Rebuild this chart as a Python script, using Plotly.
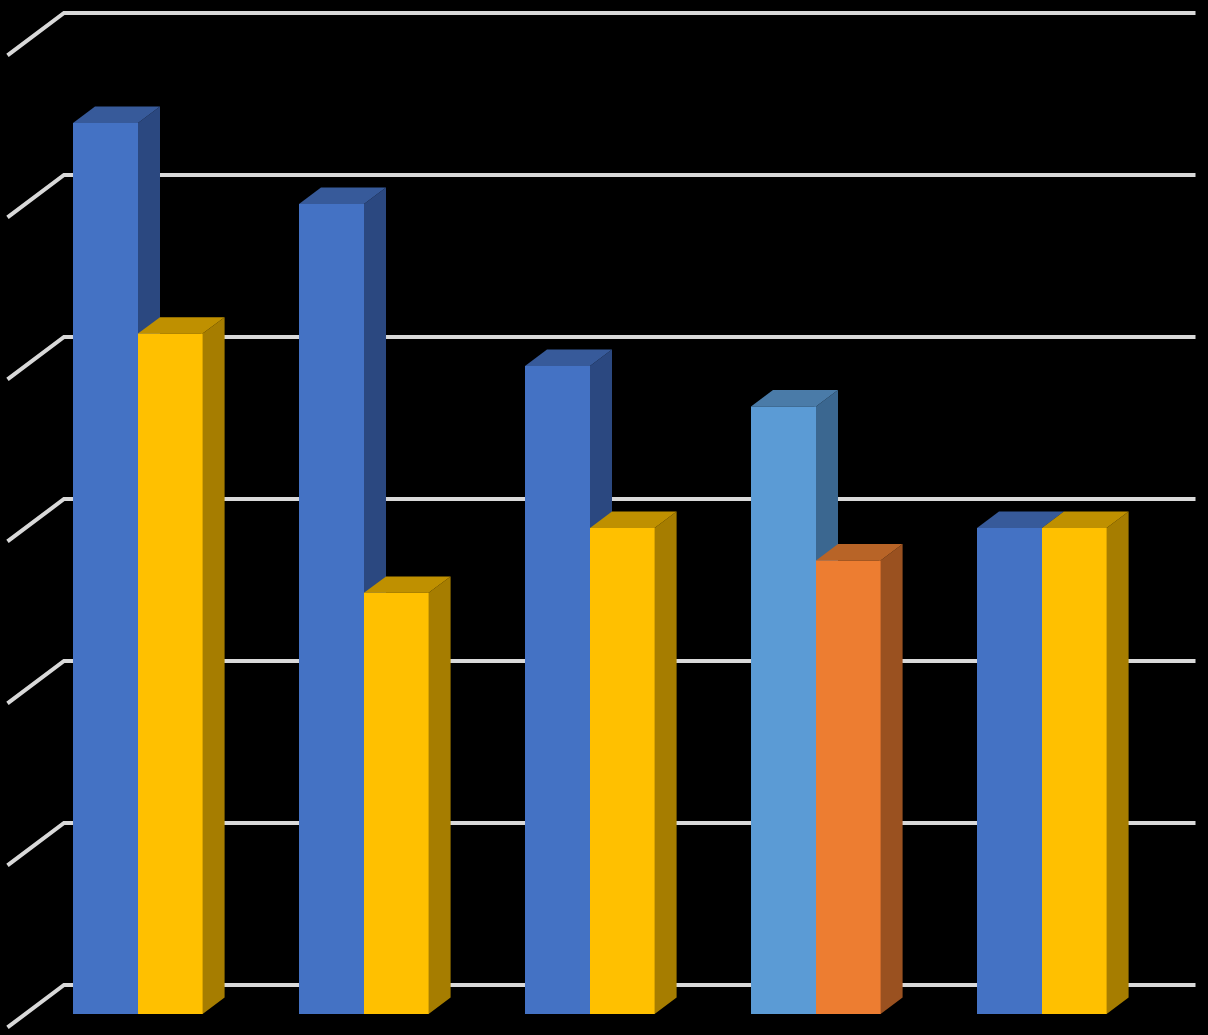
import plotly.graph_objects as go

# --- data ---
categories = [0, 1, 2, 3, 4]
series_a = [5.5, 5.0, 4.0, 3.75, 3.0]
series_b = [4.2, 2.6, 3.0, 2.8, 3.0]
ticks = [0, 1, 2, 3, 4, 5, 6]

front_a = ["#4472C4", "#4472C4", "#4472C4", "#5B9BD5", "#4472C4"]
top_a = ["#375A9A", "#375A9A", "#375A9A", "#4A7BA8", "#375A9A"]
side_a = ["#2B4880", "#2B4880", "#2B4880", "#3B6790", "#2B4880"]
front_b = ["#FFC000", "#FFC000", "#FFC000", "#ED7D31", "#FFC000"]
top_b = ["#BF9000", "#BF9000", "#BF9000", "#B86427", "#BF9000"]
side_b = ["#A67D00", "#A67D00", "#A67D00", "#9A5120", "#A67D00"]

# --- scale constants (pixels per data unit) ---
W, H = 1208, 1035
PX_X, PX_Y = 226.0, 162.0
X0_PX, Y0_PX = 138.0, 1014.0
BAR = 64.6 / PX_X
LEFT_BAR = 65.0 / PX_X
DX, DY = 22 / PX_X, 16.4 / PX_Y
SEAM = 1.5 / PX_X
GRID = "#D9D9D9"

fig = go.Figure()

# gridlines: wall plus slanted side wall
wall_left = (64 - X0_PX) / PX_X
wall_right = (1195.5 - X0_PX) / PX_X
floor_left = (7.5 - X0_PX) / PX_X
back = 29 / PX_Y
front = -13.4 / PX_Y
gx, gy = [], []
for t in ticks:
    gx += [floor_left, wall_left, wall_right, None]
    gy += [t + front, t + back, t + back, None]
fig.add_trace(go.Scatter(x=gx, y=gy, mode="lines", zorder=0, hoverinfo="skip",
                         line=dict(color=GRID, width=4, shape="linear"),
                         showlegend=False))


def add_series(name, values, offset, width, c_front, c_top, c_side, z):
    fig.add_trace(go.Bar(name=name, x=categories, y=values, width=width, offset=offset,
                         marker=dict(color=c_front, line=dict(width=0)),
                         zorder=z + 1, showlegend=False))
    for cat, v, ct, cs in zip(categories, values, c_top, c_side):
        left = cat + offset
        right = left + width
        # the side face runs slightly under the front face so no seam shows
        fig.add_trace(go.Scatter(
            x=[right - SEAM, right, right + DX, right + DX, right, right - SEAM, right - SEAM],
            y=[0, 0, DY, v + DY, v, v, 0], mode="lines", fill="toself",
            fillcolor=cs, line=dict(width=0), zorder=z, hoverinfo="skip", showlegend=False))
        fig.add_trace(go.Scatter(
            x=[left, left + DX, right + DX, right, left],
            y=[v, v + DY, v + DY, v, v], mode="lines", fill="toself",
            fillcolor=ct, line=dict(width=0), zorder=z, hoverinfo="skip", showlegend=False))


add_series("A", series_a, -LEFT_BAR, LEFT_BAR, front_a, top_a, side_a, 1)
add_series("B", series_b, 0, BAR, front_b, top_b, side_b, 3)

fig.update_layout(
    width=W, height=H, autosize=False, barmode="overlay",
    margin=dict(l=0, r=0, t=0, b=0), paper_bgcolor="#000000", plot_bgcolor="#000000",
    xaxis=dict(range=[-X0_PX / PX_X, (W - X0_PX) / PX_X], visible=False, fixedrange=True),
    yaxis=dict(range=[(Y0_PX - H) / PX_Y, Y0_PX / PX_Y], visible=False, fixedrange=True),
)
fig.write_html("out.html", config=dict(displayModeBar=False),
               post_script="document.body.style.margin='0';document.body.style.background='#000';document.documentElement.style.overflow='hidden';")
